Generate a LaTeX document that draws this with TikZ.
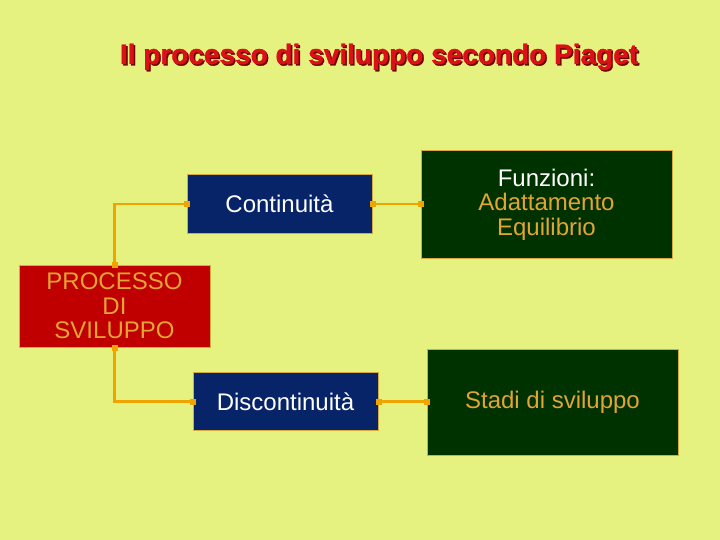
\documentclass[tikz,border=0pt]{standalone}
\usepackage{fontspec}
\setmainfont{Liberation Sans}
\newfontfamily\titolofont{Liberation Sans}[BoldFeatures={FakeBold=1.2}]
\usetikzlibrary{arrows.meta,positioning}

\definecolor{sfondo}{RGB}{230,242,128}
\definecolor{blunotte}{RGB}{8,36,104}
\definecolor{verdescuro}{RGB}{0,50,0}
\definecolor{rosso}{RGB}{192,0,0}
\definecolor{arancio}{RGB}{240,164,0}
\definecolor{testoarancio}{RGB}{226,164,52}
\definecolor{bordo}{RGB}{214,170,60}
\definecolor{titolo}{RGB}{220,16,24}
\definecolor{ombra}{RGB}{110,0,0}

\begin{document}
\begin{tikzpicture}[
    x=1pt, y=-1pt,
    box/.style={draw=bordo, line width=1pt, inner sep=0pt, align=center, font=\fontsize{24}{24.5}\selectfont},
    blu/.style={box, fill=blunotte, text=white, minimum width=185pt, minimum height=58pt},
    verde/.style={box, fill=verdescuro, text=testoarancio, minimum width=251pt, minimum height=106pt},
    link/.style={arancio, line width=2.2pt, {Square[length=6pt,width=6pt]}-{Square[length=6pt,width=6pt]}, shorten <=-3pt, shorten >=-3pt},
    titolostile/.style={anchor=base, font=\titolofont\fontsize{28}{30}\bfseries}
]
    \fill[sfondo] (0,0) rectangle (720,540);

    \node (ombratitolo) [titolostile, text=ombra] at (380.5,65.5) {Il processo di sviluppo secondo Piaget};
    \node (titolo) [titolostile, text=titolo] at (379,64) {Il processo di sviluppo secondo Piaget};

    \node (processo) [box, fill=rosso, text=testoarancio, minimum width=191pt, minimum height=82pt] at (114.5,306) {PROCESSO\\DI\\SVILUPPO};
    \node (cont) [blu] at (279.5,204) {Continuità};
    \node (discont) [blu] at (285.5,401.5) {Discontinuità};
    \node (funz) [verde, minimum height=107pt] at (546.5,204.5) {\textcolor{white}{Funzioni:}\\Adattamento\\Equilibrio};
    \node (stadi) [verde] at (552.5,402) {Stadi di sviluppo};

    \draw [link] (processo.north) |- (cont.west);
    \draw [link] (processo.south) |- (discont.west);
    \draw [link] (cont.east) -- (funz.west |- cont.east);
    \draw [link] (discont.east) -- (stadi.west |- discont.east);
\end{tikzpicture}
\end{document}
